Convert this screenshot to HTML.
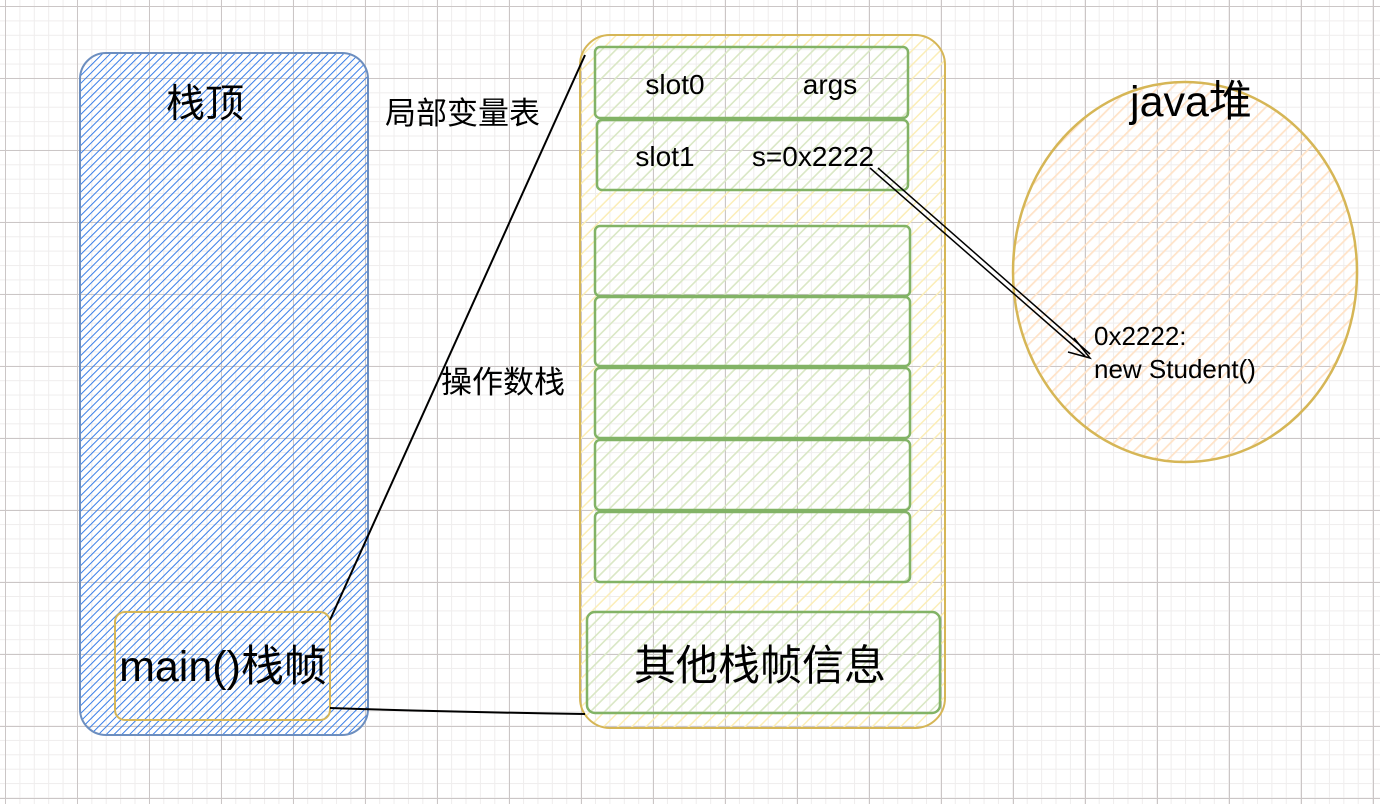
<!DOCTYPE html>
<html><head><meta charset="utf-8"><style>
html,body{margin:0;padding:0;background:#fff;}
body{width:1380px;height:804px;overflow:hidden;position:relative;
background-image:
linear-gradient(to right,#cbc6c6 1px,transparent 1px),
linear-gradient(to bottom,#cbc6c6 1px,transparent 1px),
linear-gradient(to right,#efeded 1px,transparent 1px),
linear-gradient(to bottom,#efeded 1px,transparent 1px);
background-size:72px 72px,72px 72px,14.4px 14.4px,14.4px 14.4px;
background-position:5px 6px,5px 6px,5px 6px,5px 6px;}
svg{position:absolute;left:0;top:0}
text{font-family:"Liberation Sans","Noto Sans CJK SC",sans-serif;fill:#000}
</style></head><body>
<svg width="1380" height="804" viewBox="0 0 1380 804">
<defs>
<pattern id="hb" width="5.5" height="5.5" patternUnits="userSpaceOnUse" patternTransform="rotate(45)">
<line x1="0" y1="0" x2="0" y2="5.5" stroke="#3a7fe8" stroke-width="2"/></pattern>
<pattern id="hy" width="10" height="10" patternUnits="userSpaceOnUse" patternTransform="rotate(45)">
<line x1="0" y1="0" x2="0" y2="10" stroke="#fbeeb8" stroke-width="3"/></pattern>
<pattern id="hg" width="10" height="10" patternUnits="userSpaceOnUse" patternTransform="rotate(45)">
<line x1="0" y1="0" x2="0" y2="10" stroke="#d8e8c8" stroke-width="3"/></pattern>
<pattern id="ho" width="10" height="10" patternUnits="userSpaceOnUse" patternTransform="rotate(45)">
<line x1="0" y1="0" x2="0" y2="10" stroke="#ffe3c8" stroke-width="3.5"/></pattern>
</defs>
<rect x="80" y="53" width="288" height="682" rx="26" fill="url(#hb)" stroke="#6c8ebf" stroke-width="2"/>
<rect x="115" y="612" width="215" height="108" rx="10" fill="none" stroke="#d6b656" stroke-width="2"/>
<text x="205" y="117" font-size="39" text-anchor="middle">栈顶</text>
<text x="223" y="681" font-size="43" text-anchor="middle">main()栈帧</text>

<rect x="580" y="35" width="365" height="693" rx="30" fill="url(#hy)" stroke="#d6b656" stroke-width="2"/>
<g fill="url(#hg)" stroke="#82b366" stroke-width="2.5">
<rect x="595" y="47" width="313" height="71" rx="5"/>
<rect x="597" y="120" width="311" height="70" rx="5"/>
<rect x="595" y="226" width="315" height="70" rx="5"/>
<rect x="595" y="297" width="315" height="69" rx="5"/>
<rect x="595" y="368" width="315" height="70" rx="5"/>
<rect x="595" y="440" width="315" height="70" rx="5"/>
<rect x="595" y="512" width="315" height="70" rx="5"/>
<rect x="587" y="612" width="353" height="101" rx="8"/>
</g>
<text x="675" y="94" font-size="28" text-anchor="middle">slot0</text>
<text x="830" y="94" font-size="28" text-anchor="middle">args</text>
<text x="665" y="166" font-size="28" text-anchor="middle">slot1</text>
<text x="813" y="166" font-size="28" text-anchor="middle">s=0x2222</text>
<text x="760" y="680" font-size="42" text-anchor="middle">其他栈帧信息</text>
<text x="385" y="124" font-size="31">局部变量表</text>
<text x="441" y="393" font-size="31">操作数栈</text>

<line x1="330" y1="620" x2="585" y2="55" stroke="#000" stroke-width="2"/>
<path d="M330 708 Q450 712 585 714" fill="none" stroke="#000" stroke-width="2"/>

<ellipse cx="1185" cy="272" rx="172" ry="190" fill="url(#ho)" stroke="#d6b656" stroke-width="2.5"/>
<text x="1191" y="116" font-size="43" text-anchor="middle">java堆</text>
<text x="1094" y="345" font-size="26">0x2222:</text>
<text x="1094" y="378" font-size="26">new Student()</text>

<line x1="870" y1="168" x2="1085" y2="356" stroke="#000" stroke-width="1.5"/>
<line x1="878" y1="168" x2="1090" y2="354" stroke="#000" stroke-width="1.5"/>
<path d="M1074 338 L1090 358 L1068 352" fill="none" stroke="#000" stroke-width="1.5"/>
</svg>
</body></html>
